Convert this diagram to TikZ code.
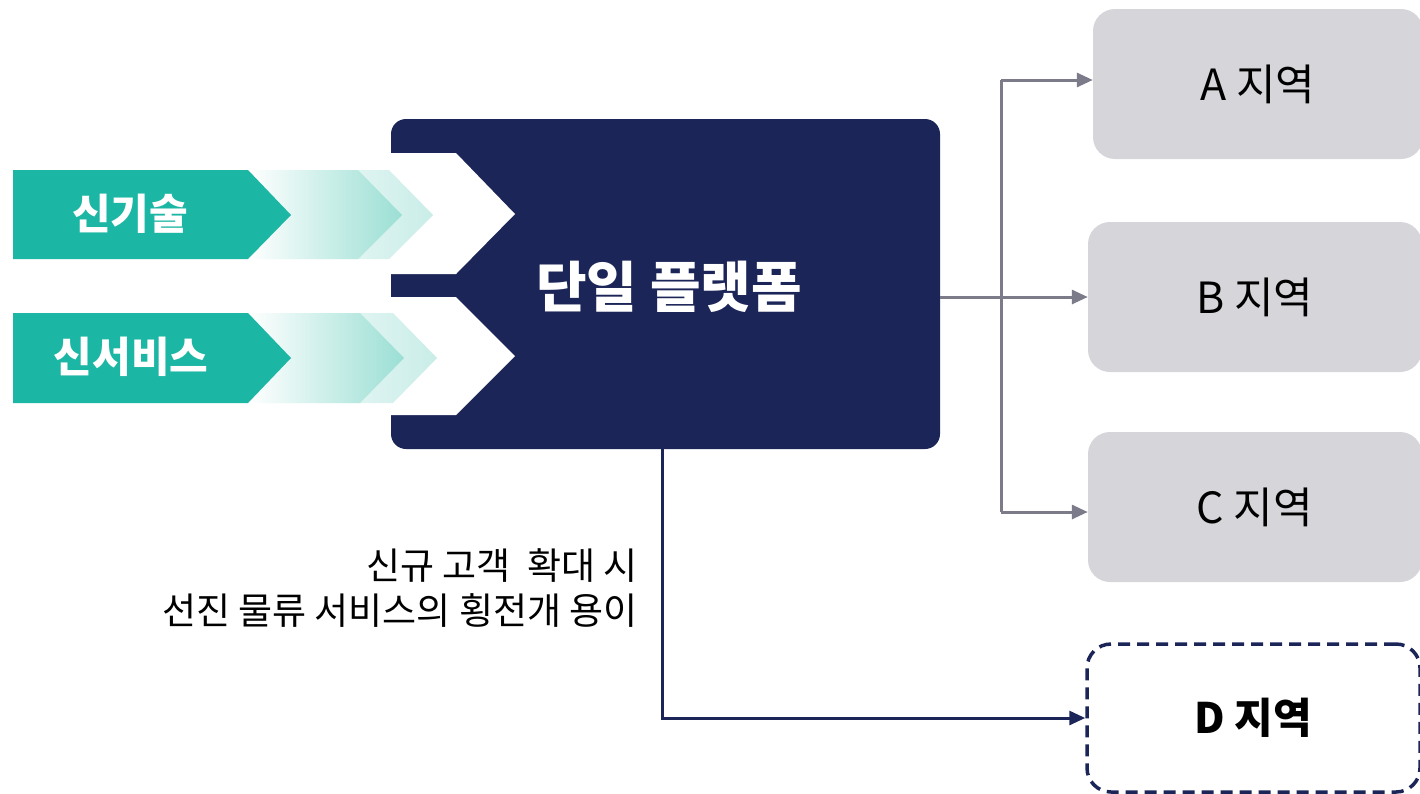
\documentclass[tikz,border=0pt]{standalone}
\usepackage{fontspec}
\setmainfont{Noto Sans CJK KR}
\usetikzlibrary{arrows.meta}
\definecolor{teal1}{HTML}{1BB6A4}
\definecolor{tealA}{HTML}{9BDFD4}
\definecolor{tealB}{HTML}{C9EDE8}
\definecolor{navy}{HTML}{1C2557}
\definecolor{boxgray}{HTML}{D5D5DA}
\definecolor{linegray}{HTML}{7B7B8A}
\tikzset{
  regionbox/.style={fill=boxgray, rounded corners=22pt, minimum width=334pt, minimum height=150pt, font=\fontsize{43}{45}\selectfont, text=black, inner sep=0pt},
  dregionbox/.style={draw=navy, line width=3.5pt, dash pattern=on 12pt off 7pt, rounded corners=24pt, minimum width=333pt, minimum height=148pt, font=\fontsize{42}{44}\selectfont\bfseries, text=black, inner sep=0pt},
  graylink/.style={draw=linegray, line width=3pt, -{Triangle[length=16pt,width=14pt]}},
  navylink/.style={draw=navy, line width=3pt, -{Triangle[length=16pt,width=14pt]}},
  arrowlabel/.style={font=\fontsize{42}{44}\selectfont\bfseries, text=white, inner sep=0pt},
}
\begin{document}
\begin{tikzpicture}[x=1pt,y=-1pt]
\useasboundingbox (0,0) rectangle (1420,793);
% platform
\fill[navy, rounded corners=15pt] (391,119) rectangle (940,449);
\fill[white] (380,153) -- (456,153) -- (515,214) -- (456,274) -- (380,274) -- cycle;
\fill[white] (380,297) -- (456,297) -- (515,356) -- (456,415) -- (380,415) -- cycle;
\node[font=\fontsize{55}{57}\selectfont\bfseries, text=white, inner sep=0pt] (plat) at (669,287) {단일 플랫폼};
\coordinate (platR) at (940,297);
\coordinate (platB) at (662,449);
% left arrows: gradient chevrons
\shade[left color=white, right color=tealB] (248,170) -- (389,170) -- (433,215) -- (389,259) -- (248,259) -- cycle;
\shade[left color=white, right color=tealA] (248,170) -- (358,170) -- (402,215) -- (358,259) -- (248,259) -- cycle;
\fill[teal1] (13,170) -- (248,170) -- (291,215) -- (248,259) -- (13,259) -- cycle;
\node[arrowlabel] (tech) at (130,214) {신기술};
\shade[left color=white, right color=tealB] (248,313) -- (393,313) -- (437,358) -- (393,403) -- (248,403) -- cycle;
\shade[left color=white, right color=tealA] (248,313) -- (360,313) -- (404,358) -- (360,403) -- (248,403) -- cycle;
\fill[teal1] (13,313) -- (248,313) -- (291,358) -- (248,403) -- (13,403) -- cycle;
\node[arrowlabel] (serv) at (131,357) {신서비스};
% region boxes
\node[regionbox, minimum width=330pt] (A) at (1258,84) {A 지역};
\node[regionbox] (B) at (1255,297) {B 지역};
\node[regionbox] (C) at (1255,507) {C 지역};
\node[dregionbox] (D) at (1253.5,718) {D 지역};
% connectors
\coordinate (split) at (1001,297);
\draw[graylink] (platR) -- (B.west |- platR);
\draw[linegray, line width=3pt] (1001,80) -- (1001,512);
\draw[graylink] (split |- 0,80) -- (A.west |- 0,80);
\draw[graylink] (split |- 0,512) -- (C.west |- 0,512);
\draw[navylink] (platB) |- (D.west);
% label
\node[anchor=east, align=right, font=\fontsize{37}{45}\selectfont, text=black, inner sep=0pt] (lbl) at (638,588) {신규 고객 \ 확대 시\\선진 물류 서비스의 횡전개 용이};
\end{tikzpicture}
\end{document}
